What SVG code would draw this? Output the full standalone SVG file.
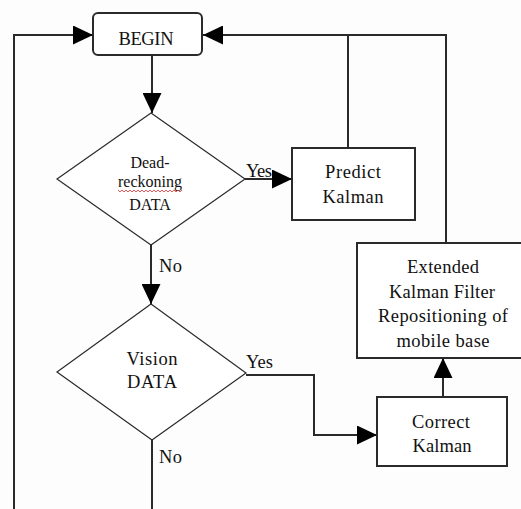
<svg xmlns="http://www.w3.org/2000/svg" width="521" height="509" viewBox="0 0 521 509">
<defs>
<style>
.bg{fill:#fdfdfd}
.box{fill:#fff;stroke:#2a2a2a;stroke-width:2}
.dia{fill:#fff;stroke:#2a2a2a;stroke-width:1.2}
.con{fill:none;stroke:#2a2a2a;stroke-width:2}
.arr{marker-end:url(#ah)}
text{font-family:"Liberation Serif","Times New Roman",serif;font-size:18.5px;fill:#111;text-anchor:middle}
.sm{font-size:16px}
.lbl{text-anchor:start}
.squig{fill:none;stroke:#e03030;stroke-width:0.8}
</style>
<marker id="ah" markerUnits="userSpaceOnUse" markerWidth="20" markerHeight="19" refX="20" refY="9.5" orient="auto">
<path d="M0,0 L20,9.5 L0,19 Z" fill="#000"/>
</marker>
</defs>
<rect class="bg" x="0" y="0" width="521" height="509"/>
<g id="connectors">
<path class="con arr" d="M14,509 V35 H93"/>
<path class="con arr" d="M446,243 V35 H203"/>
<path class="con" d="M348,148 V35"/>
<path class="con arr" d="M152,55 V113"/>
<path class="con arr" d="M245,179 H292"/>
<path class="con arr" d="M151,245 V304"/>
<path class="con arr" d="M246,375 H314 V435 H377"/>
<path class="con arr" d="M443,397 V358"/>
<path class="con" d="M152,440 V509"/>
<text class="lbl" x="246" y="177" textLength="26">Yes</text>
<text class="lbl" x="159" y="272" textLength="23">No</text>
<text class="lbl" x="246" y="368" textLength="27">Yes</text>
<text class="lbl" x="159" y="463" textLength="23">No</text>
</g>
<g id="begin">
<rect class="box" x="93" y="13" width="109" height="42" rx="5"/>
<text x="146" y="45" textLength="55">BEGIN</text>
</g>
<g id="deadreckoning">
<polygon class="dia" points="151,113 245,179 151,245 57,179"/>
<text class="sm" x="150" y="168">Dead-</text>
<text class="sm" x="150" y="187">reckoning</text>
<polyline class="squig" points="118,190 120,192 122,190 124,192 126,190 128,192 130,190 132,192 134,190 136,192 138,190 140,192 142,190 144,192 146,190 148,192 150,190 152,192 154,190 156,192 158,190 160,192 162,190 164,192 166,190 168,192 170,190 172,192 174,190 176,192 178,190 180,192 182,190"/>
<text class="sm" x="150" y="210">DATA</text>
</g>
<g id="predict">
<rect class="box" x="292" y="148" width="123" height="72"/>
<text x="353" y="178" textLength="56">Predict</text>
<text x="353" y="203" textLength="61">Kalman</text>
</g>
<g id="ekf">
<path class="box" d="M521,243 H357 V358 H521"/>
<text x="443" y="273" textLength="72">Extended</text>
<text x="442" y="298" textLength="106">Kalman Filter</text>
<text x="443" y="322" textLength="130">Repositioning of</text>
<text x="443" y="347" textLength="93">mobile base</text>
</g>
<g id="vision">
<polygon class="dia" points="151,304 246,373 152,440 57,372"/>
<text x="152" y="365" textLength="51">Vision</text>
<text x="152" y="388" textLength="50">DATA</text>
</g>
<g id="correct">
<rect class="box" x="377" y="397" width="130" height="69"/>
<text x="441" y="428" textLength="58">Correct</text>
<text x="442" y="452" textLength="59">Kalman</text>
</g>
</svg>
